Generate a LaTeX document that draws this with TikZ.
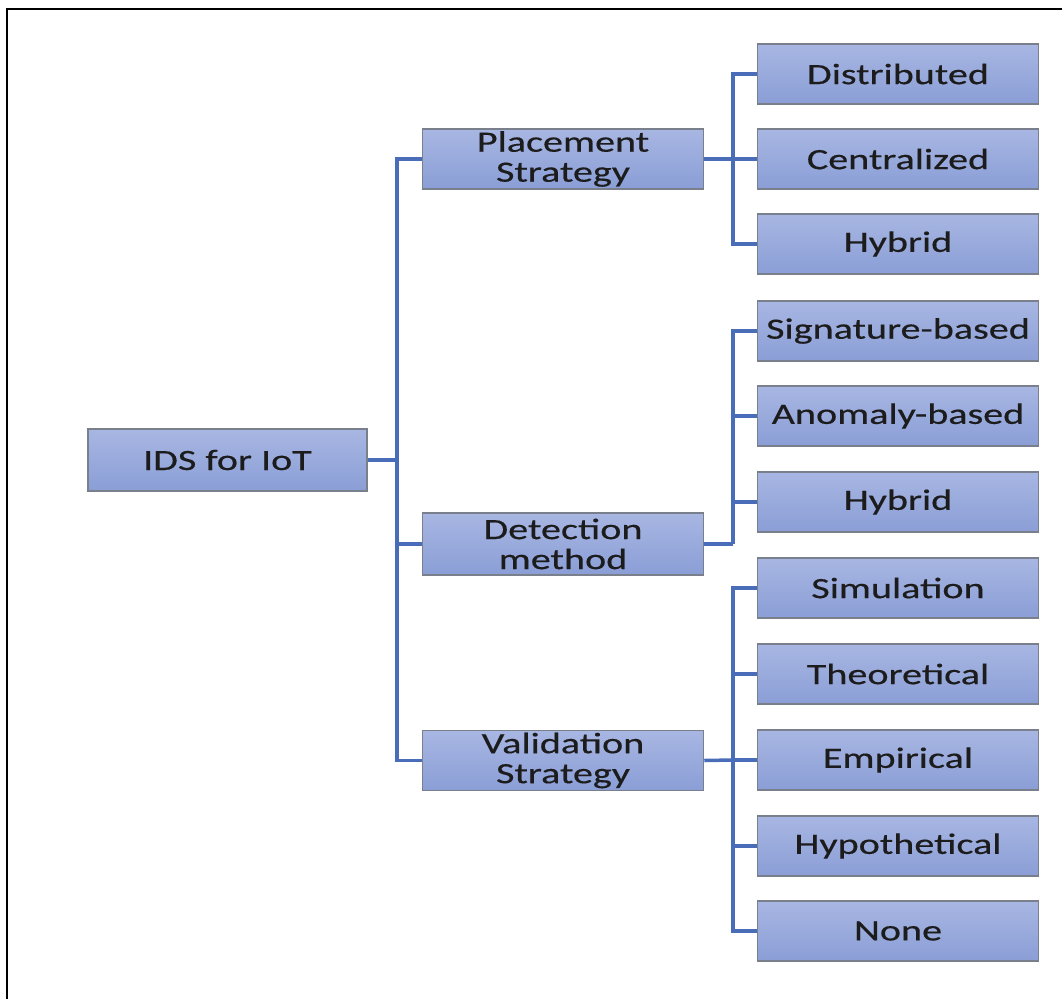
\documentclass[tikz,border=0pt]{standalone}
\usepackage{fontspec}
\setmainfont{Carlito}[FakeStretch=1.36,FakeBold=0.4]
\definecolor{boxtop}{HTML}{A8B6E2}
\definecolor{boxbot}{HTML}{8A9ED6}
\definecolor{boxline}{HTML}{7A7F8C}
\definecolor{conn}{HTML}{4A6DBA}
\definecolor{txt}{HTML}{1C1C1C}
\begin{document}
\begin{tikzpicture}[x=1pt,y=-1pt,
  box/.style={rectangle, draw=boxline, line width=1.5pt, top color=boxtop, bottom color=boxbot,
    minimum width=281pt, minimum height=60pt, inner sep=0pt, align=center,
    font=\fontsize{29.5}{30}\selectfont, text=txt},
  link/.style={draw=conn, line width=3.5pt}]
\useasboundingbox (0,0) rectangle (1062,999);
\draw[line width=2.5pt, black] (7,999) -- (7,9) -- (1062,9);

\node[box, minimum width=279pt, minimum height=62pt] (root) at (227.5,460) {IDS for IoT};
\node[box] (ps) at (563,159) {Placement\\Strategy};
\node[box, minimum height=62pt] (dm) at (563,544) {Detection\\method};
\node[box] (vs) at (563,760.5) {Validation\\Strategy};

\node[box] (d1) at (898,74) {Distributed};
\node[box] (d2) at (898,159) {Centralized};
\node[box] (d3) at (898,244) {Hybrid};
\node[box] (e1) at (898,331) {Signature-based};
\node[box] (e2) at (898,416) {Anomaly-based};
\node[box] (e3) at (898,502) {Hybrid};
\node[box] (f1) at (898,588) {Simulation};
\node[box] (f2) at (898,674) {Theoretical};
\node[box] (f3) at (898,760) {Empirical};
\node[box] (f4) at (898,846) {Hypothetical};
\node[box] (f5) at (898,931) {None};

\coordinate (rj) at (397,460);
\draw[link] (root.east) -- (rj);
\foreach \t in {ps,dm,vs} \draw[link] (rj) |- (\t.west);

\coordinate (pj) at (733,159);
\draw[link] (ps.east) -- (pj);
\foreach \t in {d1,d2,d3} \draw[link] (pj) |- (\t.west);

\coordinate (dj) at (733,544);
\draw[link] (dm.east) -- (dj);
\foreach \t in {e1,e2,e3} \draw[link] (dj) |- (\t.west);

\coordinate (vj) at (733,760);
\draw[link] (vs.east) -- (vj);
\foreach \t in {f1,f2,f3,f4,f5} \draw[link] (vj) |- (\t.west);
\end{tikzpicture}
\end{document}
